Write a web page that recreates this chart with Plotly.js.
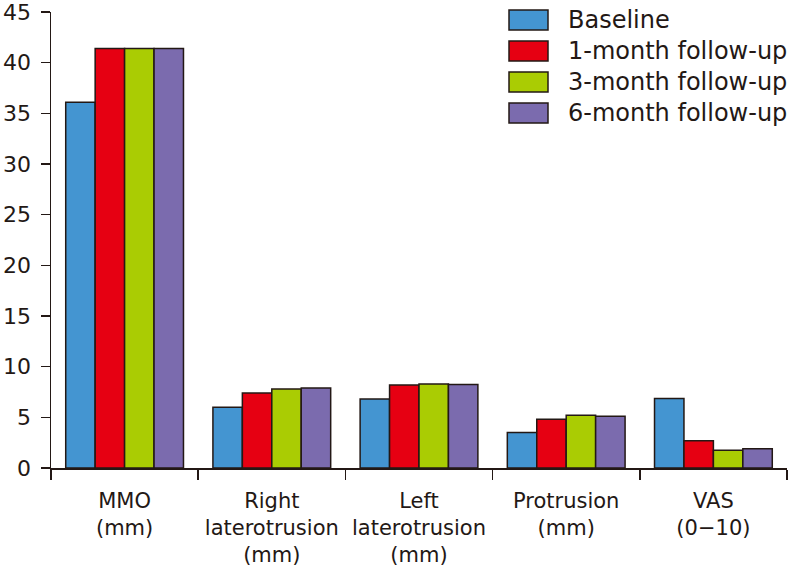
<!DOCTYPE html>
<html>
<head>
<meta charset="utf-8">
<script src="https://cdn.plot.ly/plotly-3.0.1.min.js"></script>
<style>html,body{margin:0;padding:0;background:#fff;}#chart{width:791px;height:570px;}</style>
</head>
<body>
<div id="chart"></div>
<script>
const categories = ["MMO<br>(mm)", "Right<br>laterotrusion<br>(mm)", "Left<br>laterotrusion<br>(mm)", "Protrusion<br>(mm)", "VAS<br>(0\u221210)"];
const seriesNames = ["Baseline", "1-month follow-up", "3-month follow-up", "6-month follow-up"];
const baseline = [36.1, 6.0, 6.8, 3.5, 6.85];
const month1 = [41.4, 7.4, 8.2, 4.8, 2.7];
const month3 = [41.4, 7.8, 8.3, 5.2, 1.75];
const month6 = [41.4, 7.9, 8.25, 5.1, 1.9];
const yTicks = [0, 5, 10, 15, 20, 25, 30, 35, 40, 45];

const colors = ["#4495d1", "#e60012", "#aacc03", "#7b6bae"];
const ink = "#231815";
const font = "DejaVu Sans, Arial, sans-serif";
const values = [baseline, month1, month3, month6];

const traces = values.map((v, i) => ({
  type: "bar",
  x: categories,
  y: v,
  name: seriesNames[i],
  marker: {color: colors[i], line: {color: ink, width: 1.5}},
  hoverinfo: "skip"
}));

// custom legend (swatches as shapes, labels as annotations)
const shapes = [];
const annotations = [];
const legX0 = (509 - 51) / 736, legX1 = (548 - 51) / 736;
const rowY = [20, 51, 82, 113];
seriesNames.forEach((n, i) => {
  const yc = rowY[i];
  shapes.push({
    type: "rect", xref: "paper", yref: "paper",
    x0: legX0, x1: legX1,
    y0: 1 - (yc + 10 - 12) / 456, y1: 1 - (yc - 10 - 12) / 456,
    fillcolor: colors[i], line: {color: ink, width: 1.5}
  });
  annotations.push({
    xref: "paper", yref: "paper", x: (566 - 51) / 736, y: 1 - (yc - 12) / 456,
    xanchor: "left", yanchor: "middle", text: n, showarrow: false,
    font: {family: font, size: 24, color: ink}
  });
});

const layout = {
  width: 791, height: 570,
  margin: {l: 51, r: 4, t: 12, b: 102},
  paper_bgcolor: "#fff", plot_bgcolor: "#fff",
  barmode: "group", bargap: 0.2, bargroupgap: 0,
  showlegend: false,
  font: {family: font, color: ink},
  xaxis: {
    type: "category",
    showline: true, linecolor: ink, linewidth: 1.5,
    ticks: "outside", tickson: "boundaries", ticklen: 10, tickwidth: 1.5, tickcolor: ink,
    tickfont: {family: font, size: 21, color: ink},
    ticklabelstandoff: 13,
    showgrid: false, zeroline: false, fixedrange: true
  },
  yaxis: {
    range: [0, 45], tickvals: yTicks, ticktext: yTicks.map(String),
    showline: true, linecolor: ink, linewidth: 1.5,
    ticks: "outside", ticklen: 9, tickwidth: 1.5, tickcolor: ink,
    tickfont: {family: font, size: 22, color: ink},
    ticklabelstandoff: 5, ticklabeloverflow: "allow",
    showgrid: false, zeroline: false, fixedrange: true
  },
  shapes: shapes,
  annotations: annotations
};

Plotly.newPlot("chart", traces, layout, {displayModeBar: false, staticPlot: true});
</script>
</body>
</html>
